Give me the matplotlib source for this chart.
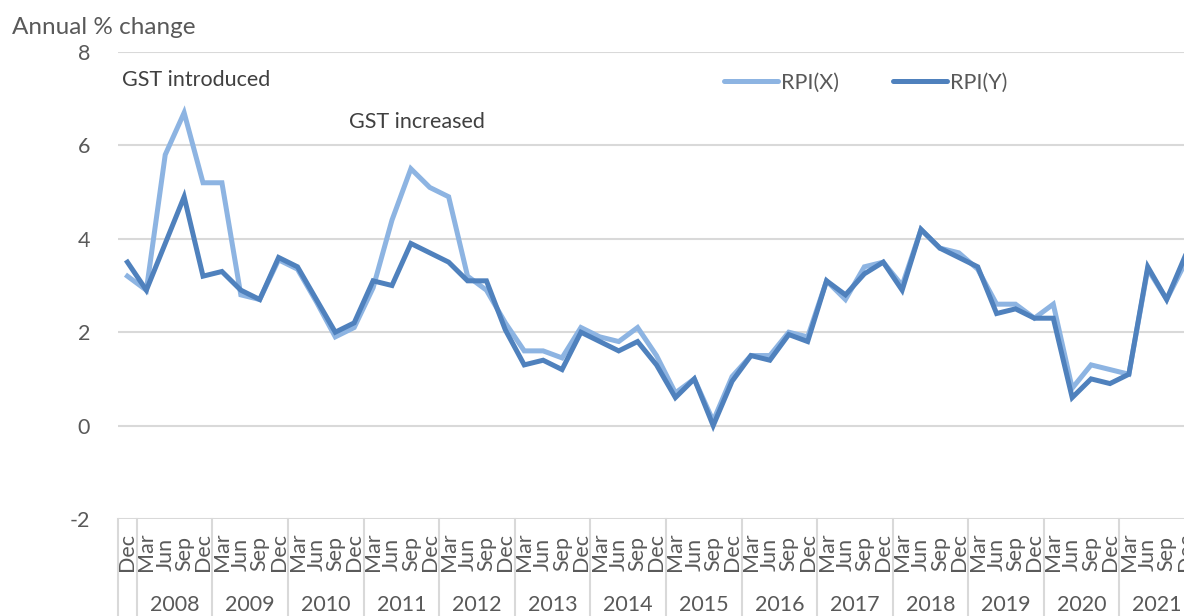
import matplotlib
matplotlib.use("Agg")
import matplotlib.pyplot as plt
from matplotlib.transforms import blended_transform_factory
from matplotlib.lines import Line2D

plt.rcParams['font.family'] = ['Lato', 'DejaVu Sans']

quarters = ["Dec"] + ["Mar", "Jun", "Sep", "Dec"] * 14
years = [str(y) for y in range(2008, 2022)]

rpi_x = [3.2, 2.9, 5.8, 6.7, 5.2, 5.2, 2.8, 2.7, 3.55, 3.35, 2.65, 1.9, 2.1,
         2.95, 4.4, 5.5, 5.1, 4.9, 3.2, 2.9, 2.2, 1.6, 1.6, 1.45, 2.1, 1.9,
         1.8, 2.1, 1.5, 0.7, 1.0, 0.1, 1.05, 1.5, 1.5, 2.0, 1.9, 3.1, 2.7,
         3.4, 3.5, 3.0, 4.2, 3.8, 3.7, 3.35, 2.6, 2.6, 2.3, 2.6, 0.8, 1.3,
         1.2, 1.1, 3.35, 2.7, 3.5]
rpi_y = [3.5, 2.9, 3.9, 4.9, 3.2, 3.3, 2.9, 2.7, 3.6, 3.4, 2.7, 2.0, 2.2,
         3.1, 3.0, 3.9, 3.7, 3.5, 3.1, 3.1, 2.05, 1.3, 1.4, 1.2, 2.0, 1.8,
         1.6, 1.8, 1.3, 0.6, 1.0, 0.0, 0.95, 1.5, 1.4, 1.95, 1.8, 3.1, 2.8,
         3.25, 3.5, 2.9, 4.2, 3.8, 3.6, 3.4, 2.4, 2.5, 2.3, 2.3, 0.6, 1.0,
         0.9, 1.1, 3.4, 2.7, 3.65]

W, H = 1184, 616
fig = plt.figure(figsize=(W / 100, H / 100), dpi=100)
ax_left, ax_right, ax_top, ax_bottom = 118, 1195, 52, 519
ax = fig.add_axes([ax_left / W, 1 - ax_bottom / H, (ax_right - ax_left) / W,
                   (ax_bottom - ax_top) / H])

txt_col = '#595959'
grid_col = '#D9D9D9'
fs = 15.5
c_x = '#8DB4E2'
c_y = '#4F81BD'

x = list(range(len(quarters)))
ax.plot(x, rpi_x, color=c_x, lw=3.6, solid_joinstyle='miter', label='RPI(X)', zorder=3)
ax.plot(x, rpi_y, color=c_y, lw=3.6, solid_joinstyle='miter', label='RPI(Y)', zorder=4)

ax.set_xlim(-0.5, len(quarters) - 0.5)
ax.set_ylim(-2, 8)
ax.set_yticks([-2, 0, 2, 4, 6, 8])
ax.set_yticklabels(['-2', '0', '2', '4', '6', '8'])
ax.tick_params(axis='y', length=0, pad=20, labelsize=fs, labelcolor=txt_col)
ax.set_xticks([])
for s in ax.spines.values():
    s.set_visible(False)
ax.grid(axis='y', color=grid_col, lw=1.5)
ax.set_axisbelow(True)

# category axis labels
trans = blended_transform_factory(ax.transData, fig.transFigure)
for i, q in enumerate(quarters):
    ax.text(i, 1 - 571 / H, q, transform=trans, rotation=90, ha='center',
            va='bottom', fontsize=fs, color=txt_col, clip_on=False)
for k, yr in enumerate(years):
    xc = 1 + 4 * k + 1.5
    ax.text(xc, 1 - 605 / H, yr, transform=trans, ha='center', va='center',
            fontsize=fs, color=txt_col, clip_on=False)
bounds = [-0.5] + [0.5 + 4 * k for k in range(len(years) + 1)]
for b in bounds:
    ax.add_line(Line2D([b, b], [1 - ax_bottom / H, 0], transform=trans,
                       color=grid_col, lw=1.5, clip_on=False))

fig.text(12 / W, 1 - 27 / H, 'Annual % change', fontsize=17.5, color=txt_col,
         ha='left', va='center')
fig.text(122 / W, 1 - 80 / H, 'GST introduced', fontsize=fs, color='#404040',
         ha='left', va='center')
fig.text(349 / W, 1 - 122 / H, 'GST increased', fontsize=fs, color='#404040',
         ha='left', va='center')

leg = ax.legend(loc='center left', bbox_to_anchor=(724 / W, 1 - 83 / H),
                bbox_transform=fig.transFigure, ncol=2, frameon=False,
                fontsize=fs, handlelength=2.5, handletextpad=0.15,
                columnspacing=2.5, borderpad=0, borderaxespad=0)
for t in leg.get_texts():
    t.set_color(txt_col)
for h in leg.get_lines():
    h.set_solid_capstyle('round')

fig.savefig('out.png', dpi=100)
